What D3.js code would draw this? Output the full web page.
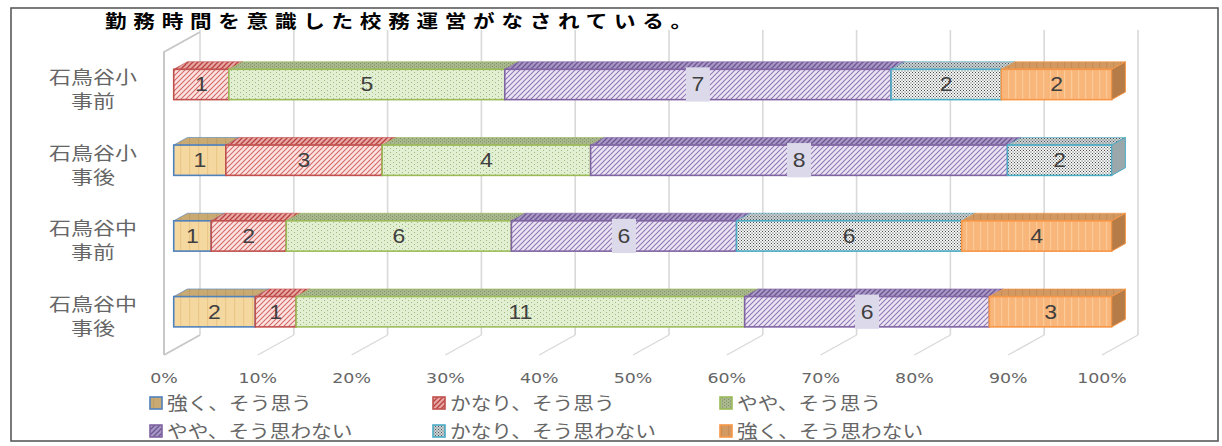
<!DOCTYPE html>
<html><head><meta charset="utf-8">
<script src="https://cdn.jsdelivr.net/npm/d3@7/dist/d3.min.js"></script>
<style>html,body{margin:0;padding:0;background:#fff;}svg{display:block;}</style>
</head><body><svg id="c" width="1222" height="446"></svg>
<script>
// ---- data ----
const title = "勤務時間を意識した校務運営がなされている。";
const categories = ["石鳥谷小 事前", "石鳥谷小 事後", "石鳥谷中 事前", "石鳥谷中 事後"];
const categoryLines = [["石鳥谷小","事前"],["石鳥谷小","事後"],["石鳥谷中","事前"],["石鳥谷中","事後"]];
const seriesNames = ["強く、そう思う","かなり、そう思う","やや、そう思う","やや、そう思わない","かなり、そう思わない","強く、そう思わない"];
const strongAgree      = [0, 1, 1, 2];
const fairlyAgree      = [1, 3, 2, 1];
const somewhatAgree    = [5, 4, 6, 11];
const somewhatDisagree = [7, 8, 6, 6];
const fairlyDisagree   = [2, 2, 6, 0];
const strongDisagree   = [2, 0, 4, 3];
const tickValues = [0,0.1,0.2,0.3,0.4,0.5,0.6,0.7,0.8,0.9,1];
const tickLabels = ["0%","10%","20%","30%","40%","50%","60%","70%","80%","90%","100%"];

const seriesValues = [strongAgree, fairlyAgree, somewhatAgree, somewhatDisagree, fairlyDisagree, strongDisagree];
const keys = ["s0","s1","s2","s3","s4","s5"];
const table = categories.map((c,i)=>{const r={cat:c}; keys.forEach((k,j)=>r[k]=seriesValues[j][i]); return r;});
const stacked = d3.stack().keys(keys).offset(d3.stackOffsetExpand)(table);

// ---- styles ----
const strokeCol = ["#4f81bd","#c0504d","#9bbb59","#8064a2","#4bacc6","#f79646"];
const svg = d3.select("#c");
const defs = svg.append("defs");
function hatch(id, bg, fg, w){
  const p = defs.append("pattern").attr("id",id).attr("patternUnits","userSpaceOnUse").attr("width",5).attr("height",5);
  p.append("rect").attr("width",5).attr("height",5).attr("fill",bg);
  p.append("path").attr("d","M-1,6 L6,-1 M-1,1 L1,-1 M4,6 L6,4").attr("stroke",fg).attr("stroke-width",w);
}
function dots(id, bg, fg, sx, sy, r){
  const p = defs.append("pattern").attr("id",id).attr("patternUnits","userSpaceOnUse").attr("width",sx).attr("height",sy);
  p.append("rect").attr("width",sx).attr("height",sy).attr("fill",bg);
  p.append("rect").attr("x",0).attr("y",0).attr("width",r).attr("height",r).attr("fill",fg);
  p.append("rect").attr("x",sx/2).attr("y",sy/2).attr("width",r).attr("height",r).attr("fill",fg);
}
function vlines(id, bg, fg, s){
  const p = defs.append("pattern").attr("id",id).attr("patternUnits","userSpaceOnUse").attr("width",s).attr("height",10);
  p.append("rect").attr("width",s).attr("height",10).attr("fill",bg);
  p.append("rect").attr("x",0).attr("width",1.2).attr("height",10).attr("fill",fg);
}
vlines("f0","#f5d8a0","#ecc888",9);
hatch("f1","#fbe3e2","#d46a67",1.1);
dots("f2","#e3efd2","#9fbb7a",6,4,1);
hatch("f3","#ebe5f3","#9078b6",1.1);
dots("f4","#f4f6f6","#4a4a4a",3,3,1);
vlines("f5","#f9b67a","#fcc999",7);
vlines("t0","#c9aa72","#bf9f66",9);
hatch("t1","#e6a7a5","#b8403d",1.3);
dots("t2","#a9b98d","#7e8f66",4,3,1);
hatch("t3","#a898c4","#6e5594",1.3);
dots("t4","#c9d3d6","#555",3,3,1);
vlines("t5","#d29a62","#c98c55",7);
const sideFill = ["#b8975f","#a94a47","#8fa172","#7c6a9c","#9aa8ab","#b57c48"];

// ---- geometry ----
const x = d3.scaleLinear().domain([0,1]).range([164,1102]);
const y = d3.scaleBand().domain(categories).range([52,355]).paddingInner(0.6).paddingOuter(0.3);
const D = [36,-20];           // depth vector front plane -> back wall
const t0 = 0.27, t1 = 0.65;   // bar front / back depth fractions
const ox = D[0]*t0, oy = D[1]*t0;
const bdx = D[0]*(t1-t0), bdy = D[1]*(t1-t0);
const grid = "#d9d9d9";

// outer frame
svg.append("rect").attr("x",11).attr("y",8).attr("width",1207).attr("height",433)
  .attr("fill","#fff").attr("stroke","#5a5a5a").attr("stroke-width",1.6);

// back-wall gridlines
const [yTop,yBot] = y.range();
svg.append("g").selectAll("line").data(tickValues).join("line")
  .attr("x1",d=>x(d)+D[0]).attr("x2",d=>x(d)+D[0])
  .attr("y1",yTop+D[1]-2).attr("y2",yBot+D[1])
  .attr("stroke",grid).attr("stroke-width",1.6);
// floor lines
svg.append("g").selectAll("line").data(tickValues.slice(1)).join("line")
  .attr("x1",d=>x(d)).attr("y1",yBot).attr("x2",d=>x(d)+D[0]).attr("y2",yBot+D[1])
  .attr("stroke",grid).attr("stroke-width",1.4);
// left wall
svg.append("path")
  .attr("d",`M${x(0)},${yBot} L${x(0)},${yTop} L${x(0)+D[0]},${yTop+D[1]} M${x(0)},${yBot} L${x(0)+D[0]},${yBot+D[1]}`)
  .attr("fill","none").attr("stroke","#c8c8c8").attr("stroke-width",2);

// bars
const barG = svg.append("g");
categories.forEach((c,ci)=>{
  const by = y(c)+oy, bh = y.bandwidth();
  let last = -1;
  stacked.forEach((s,si)=>{ if(seriesValues[si][ci]>0) last = si; });
  stacked.forEach((s,si)=>{
    const v = seriesValues[si][ci]; if(!v) return;
    const x0 = x(s[ci][0])+ox, x1 = x(s[ci][1])+ox;
    barG.append("path")
      .attr("d",`M${x0},${by} L${x0+bdx},${by+bdy} L${x1+bdx},${by+bdy} L${x1},${by} Z`)
      .attr("fill",`url(#t${si})`).attr("stroke",strokeCol[si]).attr("stroke-width",1).attr("stroke-opacity",0.6);
    barG.append("rect").attr("x",x0).attr("y",by).attr("width",x1-x0).attr("height",bh)
      .attr("fill",`url(#f${si})`).attr("stroke",strokeCol[si]).attr("stroke-width",1.6);
    if(si===last){
      barG.append("path")
        .attr("d",`M${x1},${by} L${x1+bdx},${by+bdy} L${x1+bdx},${by+bh+bdy} L${x1},${by+bh} Z`)
        .attr("fill",sideFill[si]).attr("stroke",strokeCol[si]).attr("stroke-width",1);
    }
  });
  stacked.forEach((s,si)=>{
    const v = seriesValues[si][ci]; if(!v) return;
    const cx = (x(s[ci][0])+x(s[ci][1]))/2+ox, cy = by+bh/2;
    if(si===3){
      barG.append("rect").attr("x",cx-12).attr("y",by-2).attr("width",24).attr("height",bh+4)
        .attr("fill","#dcdaea");
    }
    barG.append("g").attr("transform",`translate(${cx},${cy+7}) scale(1.15,1)`)
      .append("text").attr("text-anchor","middle").attr("font-family","Liberation Sans, Arial, sans-serif")
      .attr("font-size",20).attr("fill","#404040").text(v);
  });
});

// title
svg.append("g").attr("transform","translate(105,28) scale(1.2,1)")
  .append("text").attr("font-family","Noto Sans CJK JP").attr("font-weight","bold")
  .attr("font-size",18).attr("letter-spacing",5.6).attr("fill","#000").text(title);

// y labels
categories.forEach((c,ci)=>{
  const cy = y(c)+y.bandwidth()/2;
  categoryLines[ci].forEach((ln,li)=>{
    svg.append("g").attr("transform",`translate(93,${cy-12+li*24+6}) scale(1.22,1)`)
      .append("text").attr("text-anchor","middle").attr("font-family","Noto Sans CJK JP")
      .attr("font-size",18).attr("fill","#666").text(ln);
  });
});

// x tick labels
tickValues.forEach((t,i)=>{
  svg.append("g").attr("transform",`translate(${x(t)},383) scale(1.2,1)`)
    .append("text").attr("text-anchor","middle").attr("font-family","DejaVu Sans")
    .attr("font-size",14.5).attr("fill","#666").text(tickLabels[i]);
});

// legend
const legCols = [150, 433, 720], legRows = [403, 431];
seriesNames.forEach((n,i)=>{
  const lx = legCols[i%3], ly = legRows[Math.floor(i/3)];
  svg.append("rect").attr("x",lx).attr("y",ly-6).attr("width",12).attr("height",12)
    .attr("fill",`url(#t${i})`).attr("stroke",strokeCol[i]).attr("stroke-width",1.6);
  svg.append("g").attr("transform",`translate(${lx+17},${ly+7}) scale(1.15,1)`)
    .append("text").attr("font-family","Noto Sans CJK JP").attr("font-size",18)
    .attr("fill","#666").text(n);
});
</script></body></html>
